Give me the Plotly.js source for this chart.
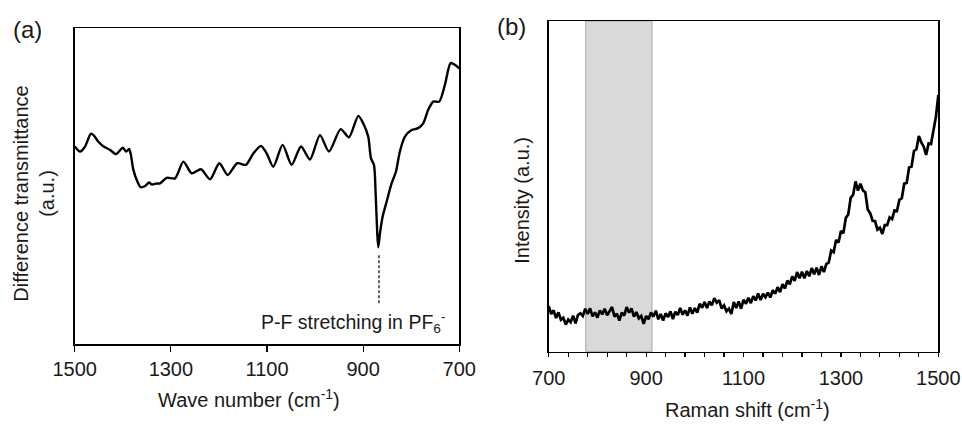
<!DOCTYPE html>
<html>
<head>
<meta charset="utf-8">
<script src="https://cdn.plot.ly/plotly-3.0.1.min.js"></script>
<style>html,body{margin:0;padding:0;background:#fff}#chart{width:962px;height:424px}</style>
</head>
<body>
<div id="chart"></div>
<script>
// ---------- Panel (a): FTIR difference transmittance ----------
const irWave = [1500,1489,1478.5,1466.7,1461,1450.8,1440,1426.5,1414,1400,1393,1387,1383.5,1378,1369.7,1362.7,1353.7,1345.4,1340,1329.5,1322.5,1308.7,1291.4,1274,1256.7,1237.3,1218.6,1199.2,1181.9,1161.8,1143.8,1128.5,1112.6,1100.7,1086.9,1067.5,1048.7,1029.3,1010.6,989.8,971.1,946.8,929.5,910.1,899.7,889.3,883.8,877.5,874,870.6,868.5,865,859.5,851.2,840.8,831.8,823.5,813.1,799.2,785.4,775,764.6,754.2,741.7,729.9,718.1,709.1,700];
const irTrans = [62.6,61.0,62.6,66.6,66.2,64.1,62.6,61.5,60.2,62.2,61.0,61.8,60.2,55.2,51.5,49.7,50.1,51.2,50.6,50.9,50.9,52.7,52.5,57.8,54.1,55.4,52.2,57.3,53.6,57.3,56.8,60.4,62.8,60.4,56.2,63.1,56.8,62.6,58.5,66.2,61.0,68.1,65.5,72.3,69.9,65.7,58.9,56.8,47.8,35.1,30.7,35.1,40.4,45.1,50.9,54.6,61.0,65.7,67.8,68.4,69.9,74.2,76.8,76.8,82.1,89.0,88.5,87.3];
const peakMarkX = [867, 867];
const peakMarkY = [28.2, 12.9];
const irTicks = [1500, 1300, 1100, 900, 700];

// ---------- Panel (b): Raman spectrum ----------
const ramanShift = [700,705,710,715,720,725,730,735,740,745,750,755,760,765,770,775,780,785,790,795,800,805,810,815,820,825,830,835,840,845,850,855,860,865,870,875,880,885,890,895,900,905,910,915,920,925,930,935,940,945,950,955,960,965,970,975,980,985,990,995,1000,1005,1010,1015,1020,1025,1030,1035,1040,1045,1050,1055,1060,1065,1070,1075,1080,1085,1090,1095,1100,1105,1110,1115,1120,1125,1130,1135,1140,1145,1150,1155,1160,1165,1170,1175,1180,1185,1190,1195,1200,1205,1210,1215,1220,1225,1230,1235,1240,1245,1250,1255,1260,1265,1270,1275,1280,1285,1290,1295,1300,1305,1310,1315,1320,1325,1330,1335,1340,1345,1350,1355,1360,1365,1370,1375,1380,1385,1390,1395,1400,1405,1410,1415,1420,1425,1430,1435,1440,1445,1450,1455,1460,1465,1470,1475,1480,1485,1490,1495,1500];
const ramanIntensity = [13.8,11.4,12.5,10.2,11.9,9.7,10.3,8.2,9.7,8.9,10.9,8.6,11.1,11.6,10.8,13.0,11.4,13.1,10.7,11.9,10.3,12.5,11.3,13.0,11.0,12.4,13.5,10.6,11.5,9.4,11.8,10.9,13.5,11.8,13.1,10.6,12.0,10.1,10.8,8.4,10.8,9.8,11.9,10.6,12.4,9.8,11.4,9.4,11.6,10.5,12.2,9.9,12.1,11.1,13.2,11.2,12.5,10.9,13.4,11.5,13.2,11.8,14.5,13.3,15.0,13.2,15.2,14.0,16.2,14.8,15.6,13.1,14.0,12.2,13.0,11.4,15.0,13.2,15.2,13.0,15.7,14.5,16.3,14.7,16.8,15.5,17.6,15.6,17.5,16.5,17.9,16.4,18.6,17.5,19.5,18.0,20.4,19.1,21.5,20.4,22.8,21.4,24.1,22.2,24.2,22.2,24.4,22.8,25.3,23.4,25.4,23.2,25.8,24.1,26.5,27.0,30.6,30.1,33.8,33.0,36.5,35.8,40.4,41.5,46.5,47.4,51.5,48.7,50.8,48.8,48.2,43.0,41.9,39.6,39.5,36.9,37.5,35.6,38.3,38.3,40.6,40.1,42.7,42.5,45.9,46.4,50.8,51.0,55.7,56.0,60.7,61.2,65.2,63.3,62.0,59.5,63.0,62.8,66.8,71.0,77.6];
const shadedRange = [776, 912];
const ramanTicks = [700, 900, 1100, 1300, 1500];

const FONT = 'Liberation Sans, Arial, sans-serif';
const TXT = '#1a1a1a';

const traces = [
  {x: irWave, y: irTrans, xaxis: 'x', yaxis: 'y', mode: 'lines',
   line: {color: '#000', width: 2.4, shape: 'spline', smoothing: 0.7}, hoverinfo: 'skip'},
  {x: peakMarkX, y: peakMarkY, xaxis: 'x', yaxis: 'y', mode: 'lines',
   line: {color: '#000', width: 1.2, dash: '3px,2px'}, hoverinfo: 'skip'},
  {x: ramanShift, y: ramanIntensity, xaxis: 'x2', yaxis: 'y2', mode: 'lines',
   line: {color: '#000', width: 2.7}, hoverinfo: 'skip'}
];

const layout = {
  width: 962, height: 424,
  margin: {l: 0, r: 0, t: 0, b: 0},
  paper_bgcolor: '#fff', plot_bgcolor: 'rgba(0,0,0,0)',
  showlegend: false,
  font: {family: FONT, color: TXT, size: 20},
  xaxis: {
    domain: [0.0777, 0.4774], anchor: 'y', range: [1500, 700],
    tickvals: irTicks, ticktext: irTicks.map(String),
    ticks: 'outside', ticklen: 6, tickwidth: 1.2, tickcolor: '#000',
    showline: true, linecolor: '#000', linewidth: 1.3, mirror: true,
    showgrid: false, zeroline: false,
    tickfont: {family: FONT, size: 20, color: TXT}
  },
  xaxis3: {
    overlaying: 'x', anchor: 'y', range: [1500, 700], domain: [0.0777, 0.4774],
    tickvals: irTicks, ticks: 'inside', ticklen: 3, tickwidth: 1.2, tickcolor: '#000',
    showticklabels: false, showline: false, showgrid: false, zeroline: false
  },
  yaxis: {
    domain: [0.188, 0.9332], anchor: 'x', range: [0, 100],
    showticklabels: false, ticks: '', showgrid: false, zeroline: false,
    showline: true, linecolor: '#000', linewidth: 1.3, mirror: true
  },
  xaxis2: {
    domain: [0.5704, 0.9754], anchor: 'y2', range: [700, 1500],
    tickvals: ramanTicks, ticktext: ramanTicks.map(String),
    ticks: 'outside', ticklen: 4, tickwidth: 1.2, tickcolor: '#000',
    minor: {dtick: 40, tick0: 700, ticks: 'outside', ticklen: 4, tickwidth: 1.2, tickcolor: '#000', showgrid: false},
    ticklabelstandoff: 4,
    showline: true, linecolor: '#000', linewidth: 1.3, mirror: true,
    showgrid: false, zeroline: false,
    tickfont: {family: FONT, size: 20, color: TXT}
  },
  yaxis2: {
    domain: [0.1705, 0.9505], anchor: 'x2', range: [0, 100],
    showticklabels: false, ticks: '', showgrid: false, zeroline: false,
    showline: true, linecolor: '#000', linewidth: 1.3, mirror: true
  },
  shapes: [
    {type: 'rect', xref: 'x2', yref: 'y2 domain', x0: shadedRange[0], x1: shadedRange[1], y0: 0, y1: 1,
     fillcolor: '#d9d9d9', line: {color: '#a6a6a6', width: 1}, layer: 'below'}
  ],
  annotations: [
    {text: '(a)', xref: 'paper', yref: 'paper', x: 27.5/962, y: 1 - 29/424, showarrow: false,
     xanchor: 'center', yanchor: 'middle', font: {size: 24, family: FONT, color: TXT}},
    {text: '(b)', xref: 'paper', yref: 'paper', x: 511.7/962, y: 1 - 27/424, showarrow: false,
     xanchor: 'center', yanchor: 'middle', font: {size: 24, family: FONT, color: TXT}},
    {text: 'Wave number (cm<sup>-1</sup>)', xref: 'paper', yref: 'paper', x: 249/962, y: 1 - 398/424,
     showarrow: false, xanchor: 'center', yanchor: 'middle', font: {size: 20, family: FONT, color: TXT}},
    {text: 'Raman shift (cm<sup>-1</sup>)', xref: 'paper', yref: 'paper', x: 747.5/962, y: 1 - 408/424,
     showarrow: false, xanchor: 'center', yanchor: 'middle', font: {size: 20, family: FONT, color: TXT}},
    {text: 'Difference transmittance<br>(a.u.)', xref: 'paper', yref: 'paper', x: 33.7/962, y: 1 - 194/424,
     showarrow: false, textangle: -90, xanchor: 'center', yanchor: 'middle',
     font: {size: 20, family: FONT, color: TXT}},
    {text: 'Intensity (a.u.)', xref: 'paper', yref: 'paper', x: 521.7/962, y: 1 - 200/424,
     showarrow: false, textangle: -90, xanchor: 'center', yanchor: 'middle',
     font: {size: 20, family: FONT, color: TXT}},
    {text: 'P-F stretching in PF<sub>6</sub><sup>-</sup>', xref: 'paper', yref: 'paper', x: 447/962, y: 1 - 322/424,
     showarrow: false, xanchor: 'right', yanchor: 'middle', font: {size: 19.5, family: FONT, color: TXT}}
  ]
};

Plotly.newPlot('chart', traces, layout, {staticPlot: true, displayModeBar: false});
</script>
</body>
</html>
